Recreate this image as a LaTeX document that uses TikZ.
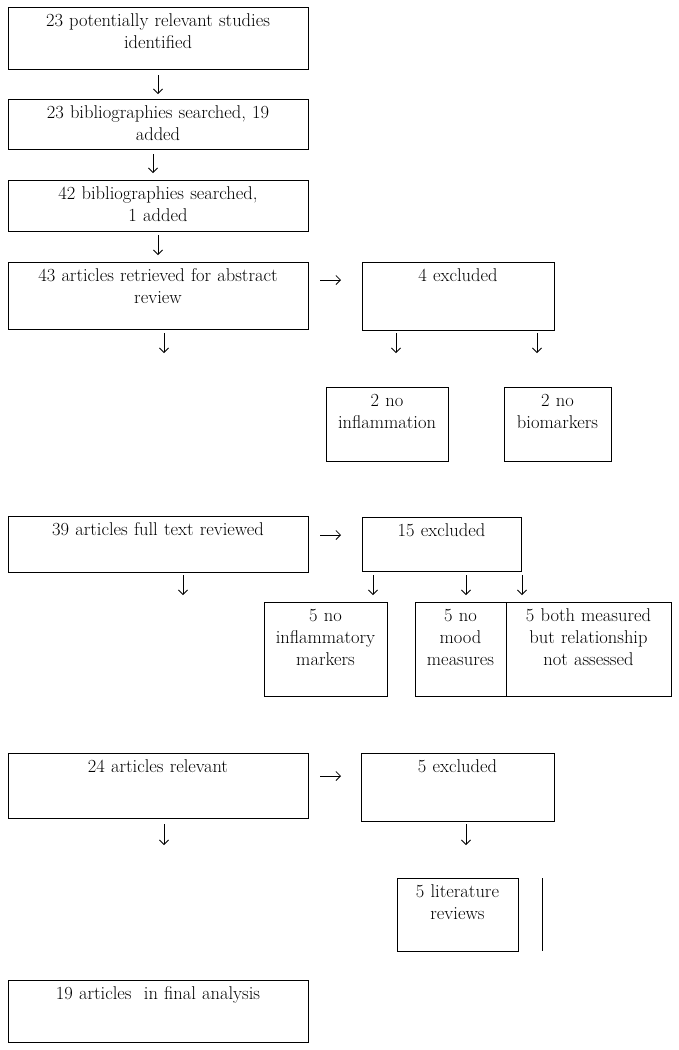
\documentclass[tikz,border=0pt]{standalone}
\usetikzlibrary{arrows.meta}
\tikzset{
  boxshape/.style={draw, line width=0.9pt, inner sep=0pt, outer sep=0pt},
  txt/.style={inner sep=0pt, outer sep=0pt, align=center, font=\fontsize{18.5}{22}\selectfont},
  arr/.style={line width=0.8pt, -{Straight Barb[length=4.5pt,width=9pt,line width=0.8pt]}},
  plainline/.style={line width=0.9pt}
}
\newcommand\mkbox[6]{%
  \node[boxshape, minimum width={#4-#2}, minimum height={#5-#3}] (#1) at ({(#2+#4)/2},{(#3+#5)/2}) {};
  \node[txt, text width={#4-#2-2}, anchor=north] (#1t) at ({(#2+#4)/2},{#3+4}) {\strut #6};
}
\newcommand\mkarrd[4]{% name, x, y1, y2
  \coordinate (#1a) at (#2,#3);
  \coordinate (#1b) at (#2,#4);
  \draw[arr] (#1a) -- (#1b);
}
\newcommand\mkarrr[4]{% name, x1, x2, y
  \coordinate (#1a) at (#2,#4);
  \coordinate (#1b) at (#3,#4);
  \draw[arr] (#1a) -- (#1b);
}
\begin{document}
\begin{tikzpicture}[x=1pt,y=-1pt]
\useasboundingbox (0,0) rectangle (679,1050);
\mkbox{b1}{8}{7}{308}{69}{23 potentially relevant studies\\identified}
\mkbox{b2}{8}{99}{308}{149}{23 bibliographies searched, 19\\added}
\mkbox{b3}{8}{180}{308}{231}{42 bibliographies searched,\\1 added}
\mkbox{b4}{8}{262}{308}{329}{43 articles retrieved for abstract\\review}
\mkbox{e4}{362}{262}{554}{330}{4 excluded}
\mkbox{i1}{326}{387}{448}{461}{2 no\\inflammation}
\mkbox{i2}{504}{387}{611}{461}{2 no\\biomarkers}
\mkbox{b5}{8}{516}{308}{572}{39 articles full text reviewed}
\mkbox{e15}{362}{517}{521}{571}{15 excluded}
\mkbox{m1}{264}{602}{387}{696}{5 no\\inflammatory\\markers}
\mkbox{m2}{415}{602}{506}{696}{5 no\\mood\\measures}
\mkbox{m3}{506}{602}{671}{696}{5 both measured\\but relationship\\not assessed}
\mkbox{b6}{8}{753}{308}{818}{24 articles relevant}
\mkbox{e5}{361}{753}{554}{821}{5 excluded}
\mkbox{l1}{397}{878}{518}{951}{5 literature\\reviews}
\mkbox{b7}{8}{980}{308}{1042}{19 articles\ \ in final analysis}
\coordinate (vla) at (542,878);
\coordinate (vlb) at (542,951);
\draw[plainline] (vla) -- (vlb);
% down arrows
\mkarrd{d1}{158}{75}{94}
\mkarrd{d2}{153}{154}{173}
\mkarrd{d3}{158}{235}{255}
\mkarrd{d4}{164}{333}{353}
\mkarrd{d5}{396}{333}{353}
\mkarrd{d6}{537}{333}{353}
\mkarrd{d7}{183}{575}{595}
\mkarrd{d8}{373}{575}{595}
\mkarrd{d9}{466}{575}{595}
\mkarrd{d10}{522}{575}{595}
\mkarrd{d11}{164}{824}{845}
\mkarrd{d12}{466}{824}{845}
% right arrows
\mkarrr{r1}{320}{341}{280}
\mkarrr{r2}{320}{341}{535}
\mkarrr{r3}{320}{341}{776}
\end{tikzpicture}
\end{document}
